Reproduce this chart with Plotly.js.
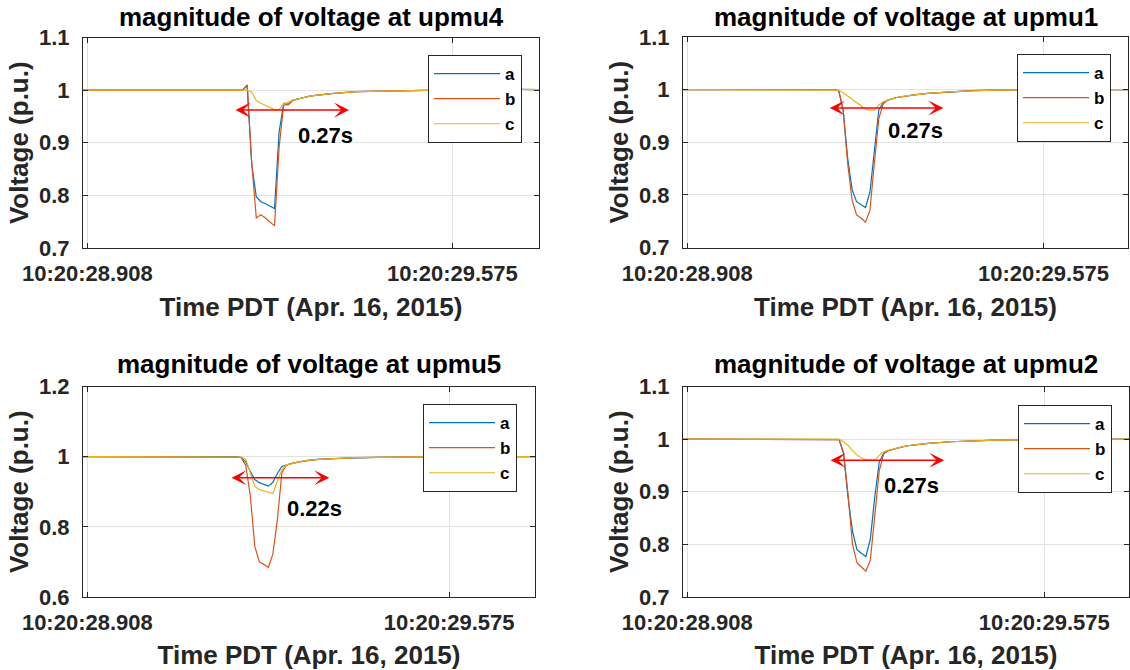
<!DOCTYPE html>
<html><head><meta charset="utf-8">
<script src="https://cdn.plot.ly/plotly-3.0.1.min.js"></script>
<style>html,body{margin:0;padding:0;background:#fff}#chart{width:1130px;height:670px}</style>
</head><body><div id="chart"></div>
<script>
// ---------------- DATA ----------------
// sample times in seconds after 10:20:00 (PMU samples, 120/s)
const time = [28.9000, 28.9833, 29.0667, 29.1500, 29.1833, 29.1917, 29.2000, 29.2083, 29.2167, 29.2250,
              29.2333, 29.2417, 29.2500, 29.2583, 29.2667, 29.2750, 29.2833, 29.3000, 29.3167, 29.3333,
              29.3583, 29.4000, 29.4417, 29.4833, 29.5667, 29.6500, 29.7333];

const sites = ['upmu4', 'upmu1', 'upmu5', 'upmu2'];
const phaseNames = ['a', 'b', 'c'];

const upmu4_a = [1.000,1.000,1.000,1.000,0.999,1.000,1.009,0.860,0.797,0.788,0.784,0.780,0.775,0.920,0.975,0.973,0.981,0.985,0.989,0.991,0.994,0.997,0.998,0.999,1.001,1.002,1.001];
const upmu4_b = [1.000,1.000,1.000,1.000,0.999,1.000,1.010,0.862,0.757,0.763,0.757,0.750,0.742,0.890,0.972,0.972,0.980,0.985,0.989,0.991,0.994,0.997,0.998,0.999,1.001,1.002,1.001];
const upmu4_c = [1.000,1.000,1.000,1.000,1.000,1.000,1.000,0.996,0.980,0.975,0.971,0.967,0.963,0.963,0.974,0.977,0.981,0.985,0.989,0.991,0.994,0.997,0.998,0.999,1.001,1.002,1.001];

const upmu1_a = [1.000,1.000,1.000,1.000,1.000,0.998,0.960,0.870,0.810,0.787,0.782,0.776,0.805,0.890,0.962,0.975,0.980,0.985,0.988,0.990,0.993,0.996,0.998,0.999,1.000,1.000,1.000];
const upmu1_b = [1.000,1.000,1.000,1.000,1.000,0.998,0.960,0.860,0.790,0.762,0.756,0.748,0.770,0.860,0.945,0.973,0.980,0.985,0.988,0.990,0.993,0.996,0.998,0.999,1.000,1.000,1.000];
const upmu1_c = [1.000,1.000,1.000,1.000,1.000,0.999,0.994,0.988,0.982,0.976,0.970,0.963,0.961,0.961,0.971,0.977,0.980,0.985,0.988,0.990,0.993,0.996,0.998,0.999,1.000,1.000,1.000];

const upmu5_a = [1.000,1.000,1.000,1.000,1.000,0.997,0.985,0.958,0.935,0.926,0.922,0.916,0.927,0.952,0.972,0.977,0.980,0.986,0.990,0.992,0.994,0.997,0.998,0.999,1.000,1.000,1.000];
const upmu5_b = [1.000,1.000,1.000,1.000,1.000,0.998,0.975,0.890,0.745,0.700,0.693,0.684,0.722,0.820,0.955,0.975,0.980,0.986,0.990,0.992,0.994,0.997,0.998,0.999,1.000,1.000,1.000];
const upmu5_c = [1.000,1.000,1.000,1.000,1.000,0.999,0.993,0.955,0.915,0.906,0.902,0.899,0.895,0.930,0.963,0.976,0.980,0.986,0.990,0.992,0.994,0.997,0.998,0.999,1.000,1.000,1.000];

const upmu2_a = [1.000,1.000,1.000,1.000,1.000,0.999,0.972,0.890,0.825,0.790,0.783,0.777,0.810,0.890,0.957,0.973,0.978,0.983,0.987,0.989,0.992,0.995,0.997,0.998,0.999,1.000,1.000];
const upmu2_b = [1.000,1.000,1.000,1.000,1.000,0.999,0.975,0.895,0.800,0.765,0.757,0.749,0.770,0.855,0.940,0.972,0.978,0.983,0.987,0.989,0.992,0.995,0.997,0.998,0.999,1.000,1.000];
const upmu2_c = [1.000,1.000,1.000,1.000,1.000,1.000,0.995,0.988,0.978,0.970,0.964,0.961,0.960,0.960,0.969,0.976,0.979,0.983,0.987,0.989,0.992,0.995,0.997,0.998,0.999,1.000,1.000];

const seriesBySite = {
  upmu4: [upmu4_a, upmu4_b, upmu4_c],
  upmu1: [upmu1_a, upmu1_b, upmu1_c],
  upmu5: [upmu5_a, upmu5_b, upmu5_c],
  upmu2: [upmu2_a, upmu2_b, upmu2_c]
};

const xTickVals = [28.908, 29.575];
const xTickText = ['10:20:28.908', '10:20:29.575'];
const yRanges = [[0.7, 1.1], [0.7, 1.1], [0.6, 1.2], [0.7, 1.1]];
const yDticks = [0.1, 0.1, 0.2, 0.1];
const durationLabels = ['0.27s', '0.27s', '0.22s', '0.27s'];
// arrow spans: start time, end time, level
const arrowStart = [29.176, 29.172, 29.171, 29.173];
const arrowEnd   = [29.386, 29.3875, 29.354, 29.388];
const arrowLevel = [0.962, 0.965, 0.940, 0.960];

// ---------------- STYLE / LAYOUT ----------------
const W = 1130, H = 670;
const FONT = '"Liberation Sans", Arial, Helvetica, sans-serif';
const colors = ['#0072BD', '#D95319', '#EDB120'];
const axisColor = '#262626';
const gridColor = '#e2e2e2';

// pixel boxes [left, right, top, bottom]
const boxes = [[83, 539, 37.5, 248], [683, 1128, 37, 247.5], [83, 535, 386.5, 597], [683, 1129, 386.5, 597]];
const legendPos = [[428, 55], [1017, 54], [423, 404], [1018, 405]];
const labelPos = [[29.3435, 0.9146], [29.3345, 0.9225], [29.3264, 0.8526], [29.3275, 0.9127]];
const titleY = [17, 17, 364, 364];

const data = [];
const layout = {
  width: W, height: H,
  margin: {l: 0, r: 0, t: 0, b: 0},
  paper_bgcolor: '#fff', plot_bgcolor: '#fff',
  font: {family: FONT, size: 20, color: axisColor, weight: 'bold'},
  showlegend: true,
  annotations: []
};

sites.forEach((site, i) => {
  const n = i + 1;
  const xs = n === 1 ? 'x' : 'x' + n;
  const ys = n === 1 ? 'y' : 'y' + n;
  const legName = n === 1 ? 'legend' : 'legend' + n;
  const b = boxes[i];
  seriesBySite[site].forEach((vals, j) => {
    data.push({
      type: 'scatter', mode: 'lines', x: time, y: vals,
      name: phaseNames[j], xaxis: xs, yaxis: ys, legend: legName,
      line: {color: colors[j], width: 1.2}, hoverinfo: 'skip'
    });
  });
  layout['xaxis' + (n === 1 ? '' : n)] = {
    domain: [b[0] / W, b[1] / W], anchor: ys,
    range: [28.9, 29.7333], tickmode: 'array', tickvals: xTickVals, ticktext: xTickText,
    ticks: 'inside', ticklen: 5, tickwidth: 1, tickcolor: axisColor,
    showline: true, linecolor: axisColor, linewidth: 1, mirror: 'ticks',
    showgrid: true, gridcolor: gridColor, gridwidth: 1, zeroline: false,
    tickfont: {family: FONT, size: 22, color: axisColor, weight: 'bold'},
    ticklabelstandoff: 6,
    title: {text: 'Time PDT (Apr. 16, 2015)', font: {family: FONT, size: 26, color: axisColor, weight: 'bold'}, standoff: 12},
    fixedrange: true
  };
  layout['yaxis' + (n === 1 ? '' : n)] = {
    domain: [1 - b[3] / H, 1 - b[2] / H], anchor: xs,
    range: yRanges[i], tick0: yRanges[i][0], dtick: yDticks[i],
    ticks: 'inside', ticklen: 5, tickwidth: 1, tickcolor: axisColor,
    showline: true, linecolor: axisColor, linewidth: 1, mirror: 'ticks',
    showgrid: true, gridcolor: gridColor, gridwidth: 1, zeroline: false,
    tickfont: {family: FONT, size: 22, color: axisColor, weight: 'bold'},
    ticklabelstandoff: 8,
    title: {text: 'Voltage (p.u.)', font: {family: FONT, size: 26, color: axisColor, weight: 'bold'}, standoff: 2},
    fixedrange: true
  };
  layout[legName] = {
    x: legendPos[i][0] / W, y: 1 - legendPos[i][1] / H, xanchor: 'left', yanchor: 'top',
    bgcolor: '#fff', bordercolor: axisColor, borderwidth: 1,
    font: {family: FONT, size: 17, color: '#000', weight: 'bold'},
    itemwidth: 66, entrywidth: 90, entrywidthmode: 'pixels', tracegroupgap: 0
  };
  // subplot title
  layout.annotations.push({
    xref: 'paper', yref: 'paper', x: (b[0] + b[1]) / 2 / W, y: 1 - titleY[i] / H,
    xanchor: 'center', yanchor: 'middle', showarrow: false,
    text: 'magnitude of voltage at ' + site,
    font: {family: FONT, size: 26, color: '#000', weight: 'bold'}
  });
  // duration double arrow
  layout.annotations.push({
    xref: xs, yref: ys, axref: xs, ayref: ys,
    x: arrowEnd[i], y: arrowLevel[i], ax: arrowStart[i], ay: arrowLevel[i],
    text: '', showarrow: true, arrowside: 'end+start',
    arrowhead: 3, startarrowhead: 3, arrowsize: 1.67, startarrowsize: 1.67,
    arrowwidth: 1.5, arrowcolor: '#ff0000', standoff: 0, startstandoff: 0
  });
  // duration label
  layout.annotations.push({
    xref: xs, yref: ys, x: labelPos[i][0], y: labelPos[i][1],
    xanchor: 'center', yanchor: 'middle', showarrow: false,
    text: durationLabels[i],
    font: {family: FONT, size: 22, color: '#000', weight: 'bold'}
  });
});

Plotly.newPlot('chart', data, layout, {displayModeBar: false, staticPlot: true});
</script>
</body></html>
